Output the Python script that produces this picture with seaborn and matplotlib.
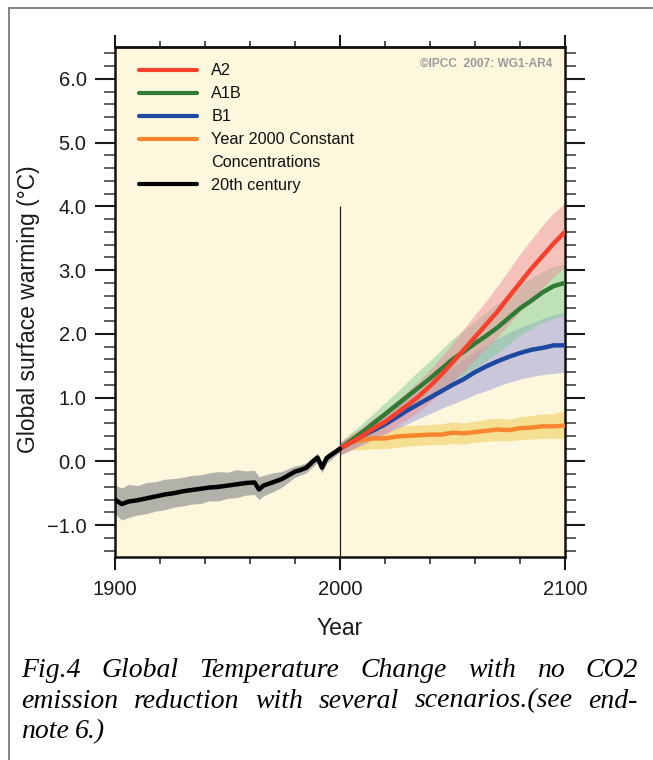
import matplotlib
matplotlib.use("Agg")
import matplotlib.pyplot as plt
from matplotlib.lines import Line2D
from matplotlib.ticker import MultipleLocator, FixedLocator, FixedFormatter
import seaborn as sns

# ---------------- data ----------------
hist_years = [1900, 1903, 1906, 1910, 1914, 1918, 1922, 1926, 1930, 1934, 1938, 1942, 1946, 1950,
              1954, 1958, 1962, 1964, 1966, 1970, 1974, 1978, 1980, 1982, 1985, 1988, 1990, 1992,
              1994, 1996, 2000]
hist_mean = [-0.60, -0.67, -0.63, -0.61, -0.58, -0.55, -0.52, -0.50, -0.47, -0.45, -0.43, -0.41,
             -0.40, -0.38, -0.36, -0.34, -0.33, -0.44, -0.38, -0.33, -0.28, -0.20, -0.16, -0.14,
             -0.10, 0.00, 0.06, -0.10, 0.05, 0.10, 0.20]
hist_upper = [-0.37, -0.42, -0.36, -0.38, -0.33, -0.32, -0.28, -0.27, -0.25, -0.22, -0.21, -0.18,
              -0.16, -0.17, -0.13, -0.15, -0.14, -0.24, -0.22, -0.18, -0.16, -0.10, -0.07, -0.06,
              -0.02, 0.07, 0.13, -0.02, 0.12, 0.16, 0.25]
hist_lower = [-0.82, -0.92, -0.88, -0.84, -0.82, -0.78, -0.76, -0.72, -0.70, -0.67, -0.66, -0.62,
              -0.62, -0.58, -0.57, -0.53, -0.52, -0.60, -0.54, -0.48, -0.41, -0.30, -0.25, -0.22,
              -0.18, -0.08, -0.02, -0.18, -0.03, 0.03, 0.15]

scen_years = [2000, 2005, 2010, 2015, 2020, 2025, 2030, 2035, 2040, 2045, 2050,
              2055, 2060, 2065, 2070, 2075, 2080, 2085, 2090, 2095, 2100]

a2_mean = [0.20, 0.30, 0.40, 0.52, 0.62, 0.75, 0.88, 1.02, 1.18, 1.36, 1.55,
           1.75, 1.95, 2.15, 2.35, 2.58, 2.80, 3.02, 3.22, 3.42, 3.60]
a2_upper = [0.30, 0.42, 0.54, 0.68, 0.80, 0.95, 1.10, 1.26, 1.44, 1.64, 1.85,
            2.08, 2.30, 2.52, 2.75, 3.00, 3.25, 3.48, 3.70, 3.90, 4.05]
a2_lower = [0.10, 0.18, 0.26, 0.36, 0.44, 0.55, 0.66, 0.78, 0.92, 1.08, 1.25,
            1.42, 1.60, 1.78, 1.95, 2.15, 2.35, 2.55, 2.72, 2.90, 3.05]

a1b_mean = [0.20, 0.33, 0.46, 0.60, 0.74, 0.88, 1.02, 1.16, 1.30, 1.45, 1.60,
            1.72, 1.85, 1.97, 2.10, 2.25, 2.40, 2.52, 2.65, 2.75, 2.80]
a1b_upper = [0.30, 0.45, 0.60, 0.76, 0.92, 1.08, 1.25, 1.42, 1.58, 1.75, 1.92,
             2.06, 2.20, 2.34, 2.48, 2.62, 2.76, 2.88, 2.98, 3.06, 3.10]
a1b_lower = [0.10, 0.20, 0.30, 0.42, 0.54, 0.66, 0.78, 0.90, 1.01, 1.13, 1.26,
             1.36, 1.47, 1.58, 1.70, 1.84, 1.98, 2.08, 2.18, 2.24, 2.28]

b1_mean = [0.20, 0.30, 0.40, 0.49, 0.58, 0.69, 0.80, 0.90, 1.00, 1.10, 1.20,
           1.29, 1.40, 1.49, 1.57, 1.64, 1.70, 1.75, 1.78, 1.82, 1.82]
b1_upper = [0.30, 0.40, 0.52, 0.63, 0.74, 0.86, 0.99, 1.11, 1.23, 1.36, 1.48,
            1.60, 1.72, 1.83, 1.93, 2.02, 2.10, 2.17, 2.24, 2.30, 2.35]
b1_lower = [0.10, 0.18, 0.27, 0.35, 0.43, 0.51, 0.59, 0.67, 0.75, 0.83, 0.90,
            0.97, 1.05, 1.11, 1.18, 1.24, 1.29, 1.33, 1.36, 1.38, 1.40]

const_mean = [0.20, 0.30, 0.34, 0.36, 0.36, 0.39, 0.40, 0.41, 0.42, 0.42, 0.45,
              0.44, 0.46, 0.48, 0.50, 0.49, 0.52, 0.53, 0.55, 0.55, 0.56]
const_upper = [0.28, 0.45, 0.50, 0.52, 0.52, 0.55, 0.56, 0.57, 0.58, 0.59, 0.62,
               0.60, 0.63, 0.66, 0.68, 0.66, 0.70, 0.72, 0.74, 0.75, 0.80]
const_lower = [0.12, 0.18, 0.18, 0.20, 0.20, 0.22, 0.24, 0.25, 0.26, 0.26, 0.28,
               0.27, 0.30, 0.31, 0.33, 0.32, 0.34, 0.35, 0.36, 0.36, 0.36]

legend_labels = ["A2", "A1B", "B1", "Year 2000 Constant", "Concentrations", "20th century"]
x_ticks = [1900, 2000, 2100]
x_tick_labels = ["1900", "2000", "2100"]
y_ticks = [-1, 0, 1, 2, 3, 4, 5, 6]
y_tick_labels = ["\u22121.0", "0.0", "1.0", "2.0", "3.0", "4.0", "5.0", "6.0"]
copyright_text = "\u00a9IPCC  2007: WG1-AR4"
caption_lines = ["Fig.4 Global Temperature Change with no CO2",
                 "emission reduction with several scenarios.(see end-",
                 "note 6.)"]

# ---------------- style ----------------
sns.set_style("ticks")
plt.rcParams['font.family'] = ['Liberation Sans', 'DejaVu Sans']

C_A2, C_A1B, C_B1, C_CONST, C_HIST = "#f5402c", "#2f7a34", "#1d4aa0", "#f7862e", "#000000"
B_A2, B_A1B, B_B1, B_CONST, B_HIST = "#ee8c9a", "#83cc95", "#aaa7da", "#f1d36c", "#9a9a9a"

W, H = 653, 760
fig = plt.figure(figsize=(W / 100, H / 100), dpi=100)
fig.patch.set_facecolor("white")
ax = fig.add_axes([115 / W, 1 - 557 / H, 450 / W, 510 / H])
ax.set_facecolor("#fcf7dd")

# bands
ax.fill_between(hist_years, hist_lower, hist_upper, color=B_HIST, alpha=0.75, lw=0, zorder=1)
ax.fill_between(scen_years, const_lower, const_upper, color=B_CONST, alpha=0.65, lw=0, zorder=1)
ax.fill_between(scen_years, b1_lower, b1_upper, color=B_B1, alpha=0.6, lw=0, zorder=1)
ax.fill_between(scen_years, a1b_lower, a1b_upper, color=B_A1B, alpha=0.5, lw=0, zorder=1)
ax.fill_between(scen_years, a2_lower, a2_upper, color=B_A2, alpha=0.5, lw=0, zorder=1)

# lines
lw = 3.2
sns.lineplot(x=scen_years, y=const_mean, ax=ax, color=C_CONST, lw=lw, zorder=3)
sns.lineplot(x=scen_years, y=b1_mean, ax=ax, color=C_B1, lw=lw, zorder=3)
sns.lineplot(x=scen_years, y=a1b_mean, ax=ax, color=C_A1B, lw=lw, zorder=3)
sns.lineplot(x=scen_years, y=a2_mean, ax=ax, color=C_A2, lw=lw, zorder=4)
sns.lineplot(x=hist_years, y=hist_mean, ax=ax, color=C_HIST, lw=lw, zorder=4)

ax.vlines(2000, -1.5, 4.0, color="#222222", lw=0.9, zorder=2)

ax.set_xlim(1900, 2100)
ax.set_ylim(-1.5, 6.5)

# ticks
ax.xaxis.set_major_locator(FixedLocator(x_ticks))
ax.xaxis.set_major_formatter(FixedFormatter(x_tick_labels))
ax.xaxis.set_minor_locator(MultipleLocator(20))
ax.yaxis.set_major_locator(FixedLocator(y_ticks))
ax.yaxis.set_major_formatter(FixedFormatter(y_tick_labels))
ax.yaxis.set_minor_locator(MultipleLocator(0.2))
ax.tick_params(axis="x", which="major", direction="out", length=9.4, width=1.5,
               labelsize=14.5, pad=7, colors="#1a1a1a", top=False)
ax.tick_params(axis="x", which="minor", direction="out", length=5, width=1.2,
               colors="#333333", top=False)
ax.tick_params(axis="y", which="major", direction="out", length=14.5, width=1.5,
               labelsize=14.5, pad=6, colors="#1a1a1a", right=True)
ax.tick_params(axis="y", which="minor", direction="out", length=7.8, width=1.2,
               colors="#444444", right=True)

sec = ax.secondary_xaxis("top")
sec.xaxis.set_major_locator(FixedLocator(x_ticks))
sec.xaxis.set_minor_locator(MultipleLocator(20))
sec.tick_params(axis="x", which="major", direction="out", length=8.6, width=1.5,
                labeltop=False, colors="#1a1a1a")
sec.tick_params(axis="x", which="minor", direction="out", length=4, width=1.2,
                colors="#333333")
sec.spines["top"].set_linewidth(1.8)

for s in ax.spines.values():
    s.set_linewidth(1.8)
    s.set_color("#111111")
    s.set_visible(True)

ax.set_xlabel("Year", fontsize=16.5, color="#1a1a1a", labelpad=13)
ax.set_ylabel("Global surface warming (\u00b0C)", fontsize=16.5, color="#1a1a1a")
ax.yaxis.set_label_coords(-0.166, 0.486)

# legend
handles = [Line2D([], [], color=C_A2, lw=3),
           Line2D([], [], color=C_A1B, lw=3),
           Line2D([], [], color=C_B1, lw=3),
           Line2D([], [], color=C_CONST, lw=3),
           Line2D([], [], color="none", lw=3),
           Line2D([], [], color=C_HIST, lw=3)]
leg = ax.legend(handles, legend_labels, loc="upper left", bbox_to_anchor=(0.0533, 0.968),
                frameon=False, fontsize=11.7, handlelength=3.6, handletextpad=0.85,
                labelspacing=0.49, borderpad=0, borderaxespad=0)
for t in leg.get_texts():
    t.set_color("#111111")

ax.text(0.973, 0.967, copyright_text, transform=ax.transAxes, ha="right", va="center",
        fontsize=8.6, color="#9a9a9a", fontweight="bold")

# outer frame
fig.add_artist(Line2D([9 / W, 9 / W], [0, 1 - 8 / H], transform=fig.transFigure,
                      color="#707070", lw=1.2))
fig.add_artist(Line2D([9 / W, 1], [1 - 8 / H, 1 - 8 / H], transform=fig.transFigure,
                      color="#707070", lw=1.2))

# justified italic caption
renderer = fig.canvas.get_renderer()
cap_font = dict(family=["Liberation Serif", "DejaVu Serif"], style="italic", fontsize=20,
                color="#000000")
x_left, x_right = 21, 638
baselines = [677, 707.5, 738]
for i, line in enumerate(caption_lines):
    words = line.split(" ")
    texts = [fig.text(0, 1 - baselines[i] / H, w, ha="left", va="baseline", **cap_font)
             for w in words]
    widths = [t.get_window_extent(renderer).width for t in texts]
    if i < len(caption_lines) - 1 and len(words) > 1:
        gap = (x_right - x_left - sum(widths)) / (len(words) - 1)
    else:
        gap = 5.5
    x = x_left
    for t, wdt in zip(texts, widths):
        t.set_x(x / W)
        x += wdt + gap

fig.savefig("out.png", dpi=100)
